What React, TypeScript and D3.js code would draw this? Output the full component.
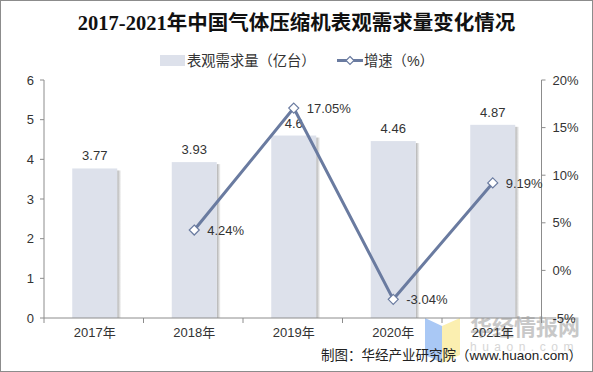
import * as d3 from 'd3';

const years = ['2017年', '2018年', '2019年', '2020年', '2021年'];
const demand = [3.77, 3.93, 4.6, 4.46, 4.87];
const growth: (number | null)[] = [null, 4.24, 17.05, -3.04, 9.19];
const leftTicks = [0, 1, 2, 3, 4, 5, 6];
const rightTicks = [-5, 0, 5, 10, 15, 20];

const W = 593;
const H = 372;
const left = 44;
const right = 541.5;
const top = 80;
const bottom = 318;

const barColor = '#dde1eb';
const lineColor = '#6a7ba0';
const textColor = '#333333';
const sans = 'Arial, "Liberation Sans", "Noto Sans CJK SC", sans-serif';

export default function App() {
  const x = d3.scaleBand<string>().domain(years).range([left, right]);
  const y = d3.scaleLinear().domain([0, 6]).range([bottom, top]);
  const y2 = d3.scaleLinear().domain([-5, 20]).range([bottom, top]);
  const barW = 45;
  const cx = (c: string) => (x(c) ?? 0) + x.bandwidth() / 2 + 1;

  const pts = years
    .map((c, i) => ({ c, v: growth[i] }))
    .filter(d => d.v !== null) as { c: string; v: number }[];

  const line = d3.line<{ c: string; v: number }>()
    .x(d => cx(d.c))
    .y(d => y2(d.v));

  const diamond = (px: number, py: number, r: number) =>
    `M${px},${py - r}L${px + r},${py}L${px},${py + r}L${px - r},${py}Z`;

  const bandTicks = years.map(c => x(c) ?? 0).concat([right]);

  return (
    <>
      <style>{`body{margin:0}`}</style>
      <svg width={W} height={H} style={{ display: 'block', background: '#fff' }}>
        <defs>
          <linearGradient id="shadow" x1="0" x2="1" y1="0" y2="0">
            <stop offset="0" stopColor="#9a9a9a" stopOpacity="0.8" />
            <stop offset="1" stopColor="#9a9a9a" stopOpacity="0" />
          </linearGradient>
        </defs>
        <rect x={0.5} y={0.5} width={W - 1} height={H - 1} fill="#fff" stroke="#8c8c8c" />

        <text x={W / 2} y={30} textAnchor="middle" fontSize={20.5} fontWeight="bold"
          fontFamily='"Liberation Serif", "Noto Sans CJK SC", serif' fill="#111">
          2017-2021年中国气体压缩机表观需求量变化情况
        </text>

        {/* legend */}
        <rect x={160} y={55} width={25} height={11} fill={barColor} />
        <text x={187} y={66} fontSize={14.3} fontFamily={sans} fill={textColor}>表观需求量（亿台）</text>
        <line x1={337} x2={363} y1={60.5} y2={60.5} stroke={lineColor} strokeWidth={3} />
        <path d={diamond(350, 60.5, 4)} fill="#fff" stroke={lineColor} strokeWidth={1.2} />
        <text x={364} y={66} fontSize={14.3} fontFamily={sans} fill={textColor}>增速（%）</text>

        {/* watermark */}
        <path d="M425,318 L442,326 L442,363 L425,355 Z" fill="#a9c8f5" />
        <path d="M442,326 L460,318 L460,355 L442,363 Z" fill="#fbefb0" />
        <text x={470} y={335} fontSize={22} fontWeight="bold" fill="#c8c8c8"
          fontFamily='"Noto Sans CJK SC", sans-serif'>华经情报网</text>
        <text x={470} y={351} fontSize={12} fill="#d6d6d6" letterSpacing={5.5}
          fontFamily={sans}>huaon.com</text>

        {/* bars */}
        {years.map((c, i) => (
          <g key={c}>
            <rect x={cx(c) - barW / 2 + barW} y={y(demand[i]) + 2} width={4}
              height={bottom - y(demand[i]) - 2} fill="url(#shadow)" />
            <rect x={cx(c) - barW / 2} y={y(demand[i])} width={barW}
              height={bottom - y(demand[i])} fill={barColor} />
          </g>
        ))}

        {/* axes */}
        <line x1={left} x2={left} y1={top} y2={bottom} stroke="#8c8c8c" />
        {leftTicks.map(t => (
          <g key={t}>
            <line x1={left - 4} x2={left} y1={y(t)} y2={y(t)} stroke="#8c8c8c" />
            <text x={left - 10} y={y(t) + 4.5} textAnchor="end" fontSize={13}
              fontFamily={sans} fill={textColor}>{t}</text>
          </g>
        ))}
        <line x1={right} x2={right} y1={top} y2={bottom} stroke="#8c8c8c" />
        {rightTicks.map(t => (
          <g key={t}>
            <line x1={right} x2={right + 4} y1={y2(t)} y2={y2(t)} stroke="#8c8c8c" />
            <text x={right + 11} y={y2(t) + 4.5} fontSize={13}
              fontFamily={sans} fill={textColor}>{`${t}%`}</text>
          </g>
        ))}
        <line x1={left} x2={right} y1={bottom} y2={bottom} stroke="#8c8c8c" />
        {bandTicks.map((t, i) => (
          <line key={i} x1={t} x2={t} y1={bottom} y2={bottom + 5} stroke="#8c8c8c" />
        ))}
        {years.map(c => (
          <text key={c} x={cx(c)} y={bottom + 19} textAnchor="middle" fontSize={13}
            fontFamily={sans} fill={textColor}>{c}</text>
        ))}

        {/* bar labels */}
        {years.map((c, i) => (
          <text key={c} x={cx(c)} y={y(demand[i]) - 8} textAnchor="middle" fontSize={13}
            fontFamily={sans} fill={textColor}>{demand[i]}</text>
        ))}

        {/* growth line */}
        <path d={line(pts) || ''} fill="none" stroke={lineColor} strokeWidth={3} />
        {pts.map(d => (
          <g key={d.c}>
            <path d={diamond(cx(d.c), y2(d.v), 5)} fill="#fff" stroke={lineColor} strokeWidth={1.2} />
            <text x={cx(d.c) + 13} y={y2(d.v) + 5} fontSize={13}
              fontFamily={sans} fill={textColor}>{`${d.v.toFixed(2)}%`}</text>
          </g>
        ))}

        <text x={582} y={360} textAnchor="end" fontSize={13.5}
          fontFamily={sans} fill="#222">制图：华经产业研究院（www.huaon.com）</text>
      </svg>
    </>
  );
}
